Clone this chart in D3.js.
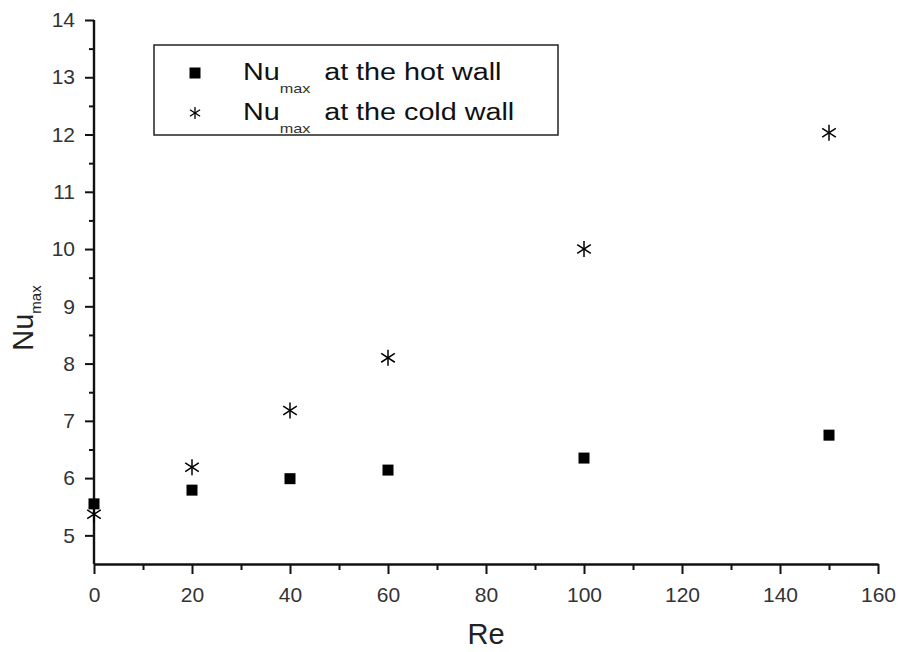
<!DOCTYPE html>
<html>
<head>
<meta charset="utf-8">
<script src="https://cdn.jsdelivr.net/npm/d3@7"></script>
<style>
  body { margin: 0; background: #fff; }
  svg { display: block; font-family: "Liberation Sans", Arial, sans-serif; }
</style>
</head>
<body>
<svg id="chart" width="902" height="652"></svg>
<script>
// data
const reValues = [0, 20, 40, 60, 100, 150];
const nuHot = [5.55, 5.79, 5.99, 6.14, 6.35, 6.75];
const nuCold = [5.37, 6.19, 7.18, 8.1, 10.0, 12.03];
const xTicks = [0, 20, 40, 60, 80, 100, 120, 140, 160];
const yTicks = [5, 6, 7, 8, 9, 10, 11, 12, 13, 14];
const legendLabels = ["at the hot wall", "at the cold wall"];

const width = 902, height = 652;
const margin = { top: 20, right: 24, bottom: 88, left: 94 };
const svg = d3.select("#chart");

const scaleX = d3.scaleLinear()
  .domain([0, 160])
  .range([margin.left, width - margin.right]);

const scaleY = d3.scaleLinear()
  .domain([4.5, 14])
  .range([height - margin.bottom, margin.top]);

const ink = "#111";

// minor ticks first (no labels)
svg.append("g")
  .attr("transform", `translate(0,${height - margin.bottom})`)
  .call(d3.axisBottom(scaleX).tickValues(d3.range(10, 160, 20)).tickSize(6).tickFormat(""))
  .call(g => g.select(".domain").remove())
  .call(g => g.selectAll(".tick line").attr("stroke", ink).attr("stroke-width", 2));

svg.append("g")
  .attr("transform", `translate(${margin.left},0)`)
  .call(d3.axisLeft(scaleY).tickValues(d3.range(5.5, 14, 1)).tickSize(5).tickFormat(""))
  .call(g => g.select(".domain").remove())
  .call(g => g.selectAll(".tick line").attr("stroke", ink).attr("stroke-width", 2));

// x-axis
svg.append("g")
  .attr("transform", `translate(0,${height - margin.bottom})`)
  .call(d3.axisBottom(scaleX).tickValues(xTicks).tickSize(10).tickSizeOuter(0).tickPadding(13))
  .call(g => g.select(".domain").attr("stroke", ink).attr("stroke-width", 2.4))
  .call(g => g.selectAll(".tick line").attr("stroke", ink).attr("stroke-width", 2))
  .call(g => g.selectAll(".tick text").attr("fill", "#333").style("font-size", "21px"));

// y-axis
svg.append("g")
  .attr("transform", `translate(${margin.left},0)`)
  .call(d3.axisLeft(scaleY).tickValues(yTicks).tickSize(9).tickSizeOuter(0).tickPadding(10))
  .call(g => g.select(".domain").attr("stroke", ink).attr("stroke-width", 2.4)
    .attr("d", `M0,${scaleY(4.5)}V${scaleY(14)}`))
  .call(g => g.selectAll(".tick line").attr("stroke", ink).attr("stroke-width", 2))
  .call(g => g.selectAll(".tick text").attr("fill", "#333").style("font-size", "21px"));

// axis titles
svg.append("text")
  .attr("x", (scaleX(0) + scaleX(160)) / 2)
  .attr("y", 644)
  .attr("text-anchor", "middle")
  .attr("fill", "#222")
  .style("font-size", "29px")
  .text("Re");

const yTitle = svg.append("text")
  .attr("transform", "translate(33,318) rotate(-90)")
  .attr("text-anchor", "middle")
  .attr("fill", "#222")
  .style("font-size", "29px");
yTitle.append("tspan").text("Nu");
yTitle.append("tspan").attr("dy", 8).style("font-size", "15px").text("max");

// markers
const squareSize = 11;
const star = (g, r) => {
  g.append("line").attr("x1", 0).attr("y1", -r).attr("x2", 0).attr("y2", r);
  g.append("line").attr("x1", -r * 0.85).attr("y1", -r * 0.55).attr("x2", r * 0.85).attr("y2", r * 0.55);
  g.append("line").attr("x1", -r * 0.85).attr("y1", r * 0.55).attr("x2", r * 0.85).attr("y2", -r * 0.55);
};

svg.append("g")
  .selectAll("rect")
  .data(reValues.map((re, i) => ({ re, nu: nuHot[i] })))
  .join("rect")
  .attr("x", d => scaleX(d.re) - squareSize / 2)
  .attr("y", d => scaleY(d.nu) - squareSize / 2)
  .attr("width", squareSize)
  .attr("height", squareSize)
  .attr("fill", "#000");

svg.append("g")
  .attr("stroke", "#000")
  .attr("stroke-width", 1.5)
  .selectAll("g")
  .data(reValues.map((re, i) => ({ re, nu: nuCold[i] })))
  .join("g")
  .attr("transform", d => `translate(${scaleX(d.re)},${scaleY(d.nu)})`)
  .each(function () { star(d3.select(this), 8); });

// legend
const legend = svg.append("g");
legend.append("rect")
  .attr("x", 154).attr("y", 45)
  .attr("width", 404).attr("height", 90)
  .attr("fill", "#fff")
  .attr("stroke", "#222")
  .attr("stroke-width", 1.5);

legendLabels.forEach((label, i) => {
  const cy = 73 + i * 40;
  if (i === 0) {
    legend.append("rect")
      .attr("x", 195 - 5.5).attr("y", cy - 5.5)
      .attr("width", 11).attr("height", 11)
      .attr("fill", "#000");
  } else {
    const m = legend.append("g")
      .attr("transform", `translate(195,${cy})`)
      .attr("stroke", "#000").attr("stroke-width", 1.3);
    star(m, 6);
  }
  const t = legend.append("text")
    .attr("transform", `translate(243,${cy + 7}) scale(1.25,1)`)
    .attr("fill", "#111")
    .style("font-size", "23px");
  t.append("tspan").text("Nu");
  t.append("tspan").attr("dy", 13).style("font-size", "13px").attr("fill", "#333").text("max");
  t.append("tspan").attr("dy", -13).attr("dx", 11).text(label);
});
</script>
</body>
</html>
